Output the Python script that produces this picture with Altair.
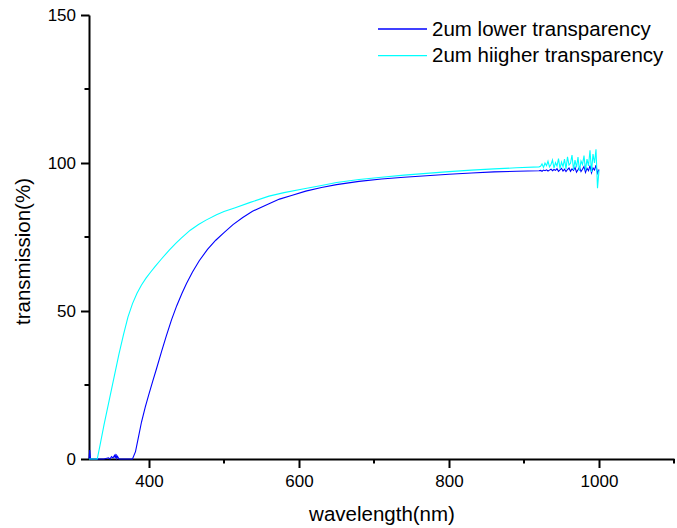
import altair as alt
import pandas as pd

# ---- data ----
lower_wl = [320, 321, 322, 330, 340, 346, 348, 350, 352, 354, 355, 356, 357, 358, 360, 370, 378,
            382, 386, 390, 395, 400, 405, 410, 417, 423, 430, 437, 444, 450, 458, 467,
            478, 489, 500, 512, 525, 538, 560, 574, 590, 609, 630, 650, 680, 710, 740, 770, 800,
            830, 860, 890, 920]
lower_val = [0, 3, 0, 0, 0, 0.4, 0, 0.8, 0.4, 1.2, 0.3, 1.7, 0.2, 0.9, 0, 0, 0,
             2.5, 7.5, 12.5, 17.5, 22, 26.3, 30.5, 36.5, 41.5, 47, 51.8, 56, 59.3, 63.2, 67,
             70.8, 73.9, 76.5, 79.2, 81.6, 83.7, 86.2, 87.8, 89, 90.5, 91.7, 92.7, 93.8, 94.6, 95.2, 95.7, 96.2,
             96.6, 97.0, 97.2, 97.4]

higher_wl = [320, 331, 335, 340, 345, 350, 355, 360, 366, 372, 378, 384, 390, 396, 402, 408, 416,
             427, 436, 443, 455, 466, 476, 490, 500, 515, 535, 560, 580, 605, 630, 650, 680,
             710, 740, 770, 800, 830, 860, 890, 920]
higher_val = [0, 0, 5, 11.5, 17.5, 23.5, 29.5, 35.5, 42, 48, 52.5, 56, 58.8, 61.1, 63.1, 65, 67.4,
              70.6, 72.9, 74.6, 77.3, 79.2, 80.7, 82.5, 83.6, 84.9, 86.7, 88.8, 90, 91.2, 92.4, 93.4, 94.4,
              95.2, 95.9, 96.5, 97.1, 97.6, 98.0, 98.4, 98.7]

# noisy tail (922 .. 1000 nm, 2 nm step)
noise_wl = list(range(922, 1001, 2))
lower_noise = [97.5, 97.2, 97.6, 97.4, 97.7, 97.3, 97.6, 97.9, 97.4, 97.8, 97.5, 98.1, 97.2, 97.7,
               98.2, 97.3, 97.9, 97.1, 97.8, 98.3, 97.2, 98.0, 97.5, 98.5, 96.9, 97.7, 98.6, 97.1,
               97.9, 98.8, 96.8, 98.2, 97.4, 99.1, 96.7, 98.3, 97.6, 99.3, 96.5, 97.8]
higher_noise = [98.9, 99.7, 98.5, 100.0, 99.1, 100.6, 98.7, 99.5, 101.0, 98.3, 100.1, 99.0, 101.5, 98.1,
                100.3, 98.8, 101.3, 98.0, 102.1, 99.3, 99.9, 102.7, 97.7, 101.0, 98.5, 102.0, 97.3, 100.7,
                99.5, 102.5, 97.5, 101.3, 99.0, 104.3, 97.0, 103.0, 100.0, 104.6, 91.5, 97.5]

series_names = ["2um lower transparency", "2um hiigher transparency"]
series_colors = ["#0000ff", "#00ffff"]

x_major = [400, 600, 800, 1000]
x_minor = [500, 700, 900, 1100]
y_major = [0, 50, 100, 150]
y_minor = [25, 75, 125]

# ---- layout ----
W, H = 585, 444
FONT = "Liberation Sans"
xs = alt.Scale(domain=[320, 1100], nice=False, zero=False)
ys = alt.Scale(domain=[0, 150], nice=False)
color_scale = alt.Scale(domain=series_names, range=series_colors)

df_low = pd.DataFrame({"wl": lower_wl + noise_wl, "val": lower_val + lower_noise,
                       "series": series_names[0]})
df_high = pd.DataFrame({"wl": higher_wl + noise_wl, "val": higher_val + higher_noise,
                        "series": series_names[1]})

x_axis = alt.Axis(values=x_major, title="wavelength(nm)", format="d", titleY=61,
                  titleBaseline="alphabetic", titleX=W / 2, labelPadding=6)
y_axis = alt.Axis(values=y_major, title="transmission(%)", format="d", titleX=-56,
                  titleY=236, titleBaseline="bottom", titleAlign="center", labelPadding=5)


def line(df):
    return alt.Chart(df).mark_line(strokeWidth=1.1).encode(
        x=alt.X("wl:Q", scale=xs, axis=x_axis),
        y=alt.Y("val:Q", scale=ys, axis=y_axis),
        color=alt.Color("series:N", scale=color_scale, legend=None),
    )


minor_x = alt.Chart(pd.DataFrame({"v": x_minor})).mark_rule(color="black", strokeWidth=2).encode(
    x=alt.X("v:Q", scale=xs, axis=x_axis), y=alt.value(H), y2=alt.value(H + 4.5))
minor_y = alt.Chart(pd.DataFrame({"v": y_minor})).mark_rule(color="black", strokeWidth=2).encode(
    y=alt.Y("v:Q", scale=ys, axis=y_axis), x=alt.value(0), x2=alt.value(-4.5))

legend_layers = []
for i, (name, col) in enumerate(zip(series_names, series_colors)):
    ly = 14 + 26.7 * i
    d = pd.DataFrame({"label": [name]})
    legend_layers.append(alt.Chart(d).mark_rule(color=col, strokeWidth=1.3).encode(
        x=alt.value(289), x2=alt.value(338), y=alt.value(ly)))
    legend_layers.append(alt.Chart(d).mark_text(align="left", baseline="middle", fontSize=20.5,
                                                font=FONT, color="black").encode(
        x=alt.value(343), y=alt.value(ly + 0.5), text="label:N"))

chart = alt.layer(line(df_low), line(df_high), minor_x, minor_y, *legend_layers).properties(
    width=W, height=H,
    background="white",
    autosize=alt.AutoSizeParams(type="none"),
    padding={"left": 89, "top": 15, "right": 3, "bottom": 69},
).configure_view(stroke=None).configure_axis(
    grid=False, domainColor="black", domainWidth=2, tickColor="black", tickWidth=2, tickSize=8.5,
    labelFont=FONT, labelFontSize=17, labelColor="black",
    titleFont=FONT, titleFontSize=20.5, titleFontWeight="normal", titleColor="black",
    labelOverlap=False, labelFlush=False,
)

chart.save("out.html", embed_options={"renderer": "svg", "actions": False})
